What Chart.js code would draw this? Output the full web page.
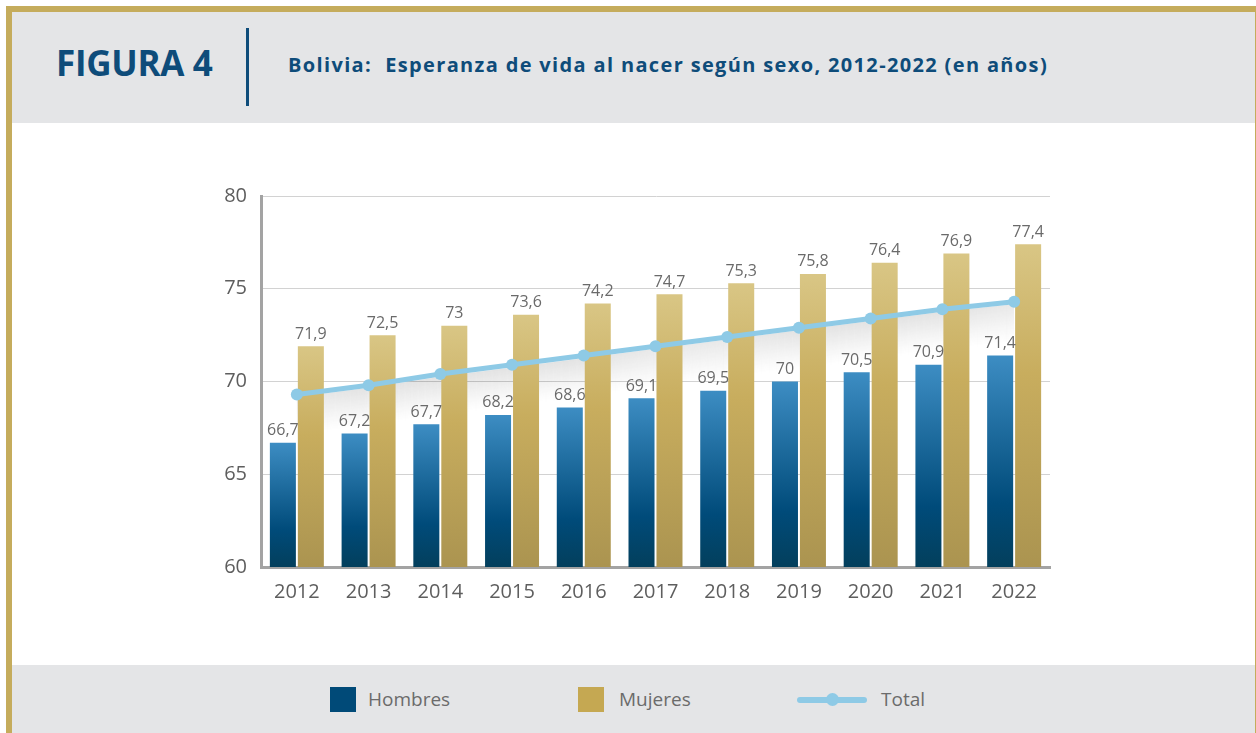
<!DOCTYPE html>
<html lang="es">
<head>
<meta charset="utf-8">
<title>Figura 4</title>
<script src="https://cdn.jsdelivr.net/npm/chart.js@4.4.1/dist/chart.umd.min.js"></script>
<style>
  body { margin: 0; background: #fff; font-family: 'Open Sans', sans-serif; }
  .gold { position: absolute; background: #c5ac5c; }
  .band { position: absolute; background: #e4e5e7; }
  #figura { position: absolute; left: 56px; top: 39px; font-size: 35px; font-weight: 700; color: #0e4c7a; letter-spacing: -0.3px; }
  #sep { position: absolute; left: 246px; top: 28px; width: 3px; height: 78px; background: #0e4c7a; }
  #subtitle { position: absolute; left: 288px; top: 51px; font-size: 20px; font-weight: 700; color: #0e4c7a; white-space: pre; letter-spacing: 1.35px; }
  #chartBox { position: absolute; left: 180px; top: 123px; }
  .leg { position: absolute; top: 686px; font-size: 19px; color: #6b6b6b; line-height: 26px; }
  .leg .sw { position: absolute; left: 0; top: 1px; width: 26px; height: 25px; }
  .leg .ln { position: absolute; left: 0; top: 11px; width: 70px; height: 6px; border-radius: 3px; background: #8ecae6; }
  .leg .dot { position: absolute; left: 29px; top: 7px; width: 13px; height: 13px; border-radius: 50%; background: #8ecae6; }
</style>
</head>
<body>
<div class="gold" style="left:6px;top:6px;width:1250px;height:6px"></div>
<div class="gold" style="left:6px;top:6px;width:6px;height:727px"></div>
<div class="gold" style="left:1255px;top:6px;width:1px;height:727px"></div>
<div class="band" style="left:12px;top:12px;width:1243px;height:111px"></div>
<div class="band" style="left:12px;top:665px;width:1243px;height:68px"></div>

<div id="figura">FIGURA 4</div>
<div id="sep"></div>
<div id="subtitle">Bolivia:  Esperanza de vida al nacer según sexo, 2012-2022 (en años)</div>

<div id="chartBox"><canvas id="lifeChart" width="900" height="542"></canvas></div>

<div class="leg" id="legHombres" style="left:330px"><span class="sw" style="background:#004a78"></span><span style="margin-left:38px"></span></div>
<div class="leg" id="legMujeres" style="left:578px"><span class="sw" style="background:#c5a852"></span><span style="margin-left:41px"></span></div>
<div class="leg" id="legTotal" style="left:797px"><span class="ln"></span><span class="dot"></span><span style="margin-left:84px"></span></div>

<script>
// data
const years = ['2012', '2013', '2014', '2015', '2016', '2017', '2018', '2019', '2020', '2021', '2022'];
const hombres = [66.7, 67.2, 67.7, 68.2, 68.6, 69.1, 69.5, 70, 70.5, 70.9, 71.4];
const mujeres = [71.9, 72.5, 73, 73.6, 74.2, 74.7, 75.3, 75.8, 76.4, 76.9, 77.4];
const total = [69.3, 69.8, 70.4, 70.9, 71.4, 71.9, 72.4, 72.9, 73.4, 73.9, 74.3];
const yTicks = [60, 65, 70, 75, 80];
const seriesNames = ['Hombres', 'Mujeres', 'Total'];

document.querySelector('#legHombres span:last-child').textContent = seriesNames[0];
document.querySelector('#legMujeres span:last-child').textContent = seriesNames[1];
document.querySelector('#legTotal span:last-child').textContent = seriesNames[2];

// per-bar vertical gradient, light at the top of each bar
function barGradient(stops) {
    return function (context) {
        const chart = context.chart;
        const area = chart.chartArea;
        if (!area || context.parsed == null) return stops[stops.length - 1][1];
        const top = chart.scales.y.getPixelForValue(context.parsed.y);
        const g = chart.ctx.createLinearGradient(0, top, 0, area.bottom);
        stops.forEach(s => g.addColorStop(s[0], s[1]));
        return g;
    };
}

// soft grey shadow under the Total line, drawn behind the bars
const lineShadow = {
    id: 'lineShadow',
    beforeDatasetsDraw(chart) {
        const meta = chart.getDatasetMeta(2);
        const pts = meta.data;
        if (!pts.length) return;
        const ctx = chart.ctx;
        ctx.save();
        ctx.beginPath();
        ctx.rect(chart.chartArea.left, chart.chartArea.top, chart.chartArea.width, chart.chartArea.height);
        ctx.clip();
        const depth = 42;
        for (let i = 3; i < depth; i++) {
            ctx.beginPath();
            pts.forEach((p, k) => {
                if (k === 0) ctx.moveTo(p.x, p.y + i);
                else ctx.lineTo(p.x, p.y + i);
            });
            ctx.strokeStyle = 'rgba(0,0,0,' + (0.1 * (1 - i / depth)).toFixed(3) + ')';
            ctx.lineWidth = 1.2;
            ctx.stroke();
        }
        ctx.restore();
    }
};

// value labels above the bars, decimal comma
const barLabels = {
    id: 'barLabels',
    afterDatasetsDraw(chart) {
        const ctx = chart.ctx;
        ctx.save();
        ctx.font = '16px "Open Sans", sans-serif';
        ctx.fillStyle = '#6a6a6a';
        ctx.textAlign = 'center';
        ctx.textBaseline = 'bottom';
        [0, 1].forEach(di => {
            const meta = chart.getDatasetMeta(di);
            const vals = chart.data.datasets[di].data;
            meta.data.forEach((bar, i) => {
                ctx.fillText(String(vals[i]).replace('.', ','), bar.x, bar.y - 4);
            });
        });
        ctx.restore();
    }
};

const ctx = document.getElementById('lifeChart').getContext('2d');
const lifeChart = new Chart(ctx, {
    type: 'bar',
    data: {
        labels: years,
        datasets: [
            {
                label: seriesNames[0],
                data: hombres,
                backgroundColor: barGradient([[0, '#3d8dc3'], [0.7, '#004b7a'], [1, '#033f5c']]),
                categoryPercentage: 0.78,
                barPercentage: 0.93,
                order: 2
            },
            {
                label: seriesNames[1],
                data: mujeres,
                backgroundColor: barGradient([[0, '#d9c685'], [0.4, '#c8ad5e'], [1, '#ab9450']]),
                categoryPercentage: 0.78,
                barPercentage: 0.93,
                order: 2
            },
            {
                type: 'line',
                label: seriesNames[2],
                data: total,
                borderColor: '#8ecae6',
                backgroundColor: '#8ecae6',
                borderWidth: 5,
                pointRadius: 6,
                pointHoverRadius: 6,
                pointBorderWidth: 0,
                tension: 0,
                fill: false,
                order: 1
            }
        ]
    },
    options: {
        responsive: false,
        animation: false,
        layout: {
            padding: { left: 0, right: 30, top: 73, bottom: 58 }
        },
        plugins: {
            legend: { display: false },
            tooltip: { enabled: false }
        },
        scales: {
            x: {
                grid: { display: false, drawTicks: false },
                border: { color: '#a3a3a3', width: 3 },
                ticks: {
                    color: '#5e5e5e',
                    padding: 13,
                    font: { family: 'Open Sans', size: 20 }
                },
                afterFit(axis) { axis.height = 40; }
            },
            y: {
                min: 60,
                max: 80,
                afterBuildTicks(axis) { axis.ticks = yTicks.map(v => ({ value: v })); },
                grid: { color: '#d2d2d2', lineWidth: 1, drawTicks: false },
                border: { color: '#a3a3a3', width: 3 },
                ticks: {
                    color: '#5e5e5e',
                    padding: 14,
                    font: { family: 'Open Sans', size: 20 }
                },
                afterFit(axis) { axis.width = 81; }
            }
        }
    },
    plugins: [lineShadow, barLabels]
});
</script>
</body>
</html>
